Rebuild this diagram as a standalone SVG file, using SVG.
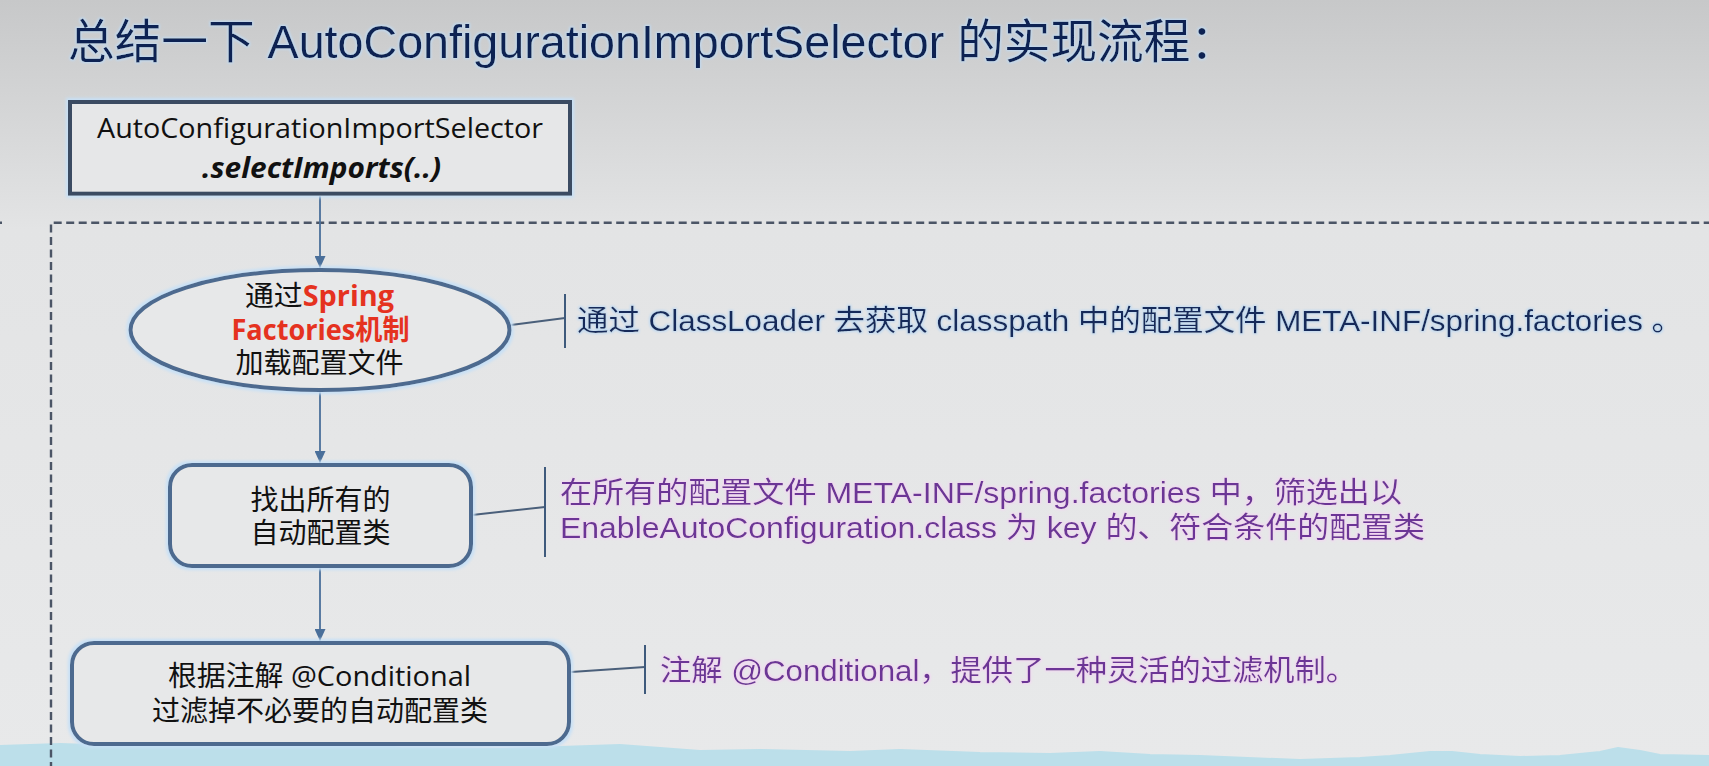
<svg xmlns="http://www.w3.org/2000/svg" width="1709" height="766" viewBox="0 0 1709 766">
  <defs>
    <linearGradient id="bg" x1="0" y1="0" x2="0" y2="1">
      <stop offset="0" stop-color="#c7c8c9"/>
      <stop offset="0.3" stop-color="#e3e4e5"/>
      <stop offset="1" stop-color="#e8e9ea"/>
    </linearGradient>
    <filter id="glowBlue" x="-5%" y="-30%" width="110%" height="160%">
      <feMorphology in="SourceAlpha" operator="dilate" radius="1.2" result="d"/>
      <feGaussianBlur in="d" stdDeviation="1.2" result="b"/>
      <feFlood flood-color="#bfd9f2"/>
      <feComposite in2="b" operator="in" result="g"/>
      <feMerge><feMergeNode in="g"/><feMergeNode in="SourceGraphic"/></feMerge>
    </filter>
    <filter id="glowPink" x="-5%" y="-30%" width="110%" height="160%">
      <feMorphology in="SourceAlpha" operator="dilate" radius="1.2" result="d"/>
      <feGaussianBlur in="d" stdDeviation="1.2" result="b"/>
      <feFlood flood-color="#f2d6f2"/>
      <feComposite in2="b" operator="in" result="g"/>
      <feMerge><feMergeNode in="g"/><feMergeNode in="SourceGraphic"/></feMerge>
    </filter>
    <filter id="halo" x="-10%" y="-20%" width="120%" height="140%">
      <feMorphology in="SourceAlpha" operator="dilate" radius="1.5" result="d"/>
      <feGaussianBlur in="d" stdDeviation="1.5" result="b"/>
      <feFlood flood-color="#c6e0f7"/>
      <feComposite in2="b" operator="in" result="g"/>
      <feMerge><feMergeNode in="g"/><feMergeNode in="SourceGraphic"/></feMerge>
    </filter>
    <marker id="arrow" viewBox="0 0 12 11" refX="12" refY="5.5" markerWidth="12" markerHeight="11" markerUnits="userSpaceOnUse" orient="auto">
      <path d="M0,0 L12,5.5 L0,11 Z" fill="#4a6f9a"/>
    </marker>
    <style>
      .title { font-family: "Liberation Sans", "Noto Sans CJK SC", sans-serif; font-size: 47px; fill: #0f2452; }
      .node-text { font-family: "Open Sans", "Noto Sans CJK SC", sans-serif; font-size: 28px; fill: #111111; text-anchor: middle; }
      .hot { fill: #e5321f; font-weight: bold; }
      .note { font-family: "Liberation Sans", "Noto Sans CJK SC", sans-serif; font-size: 29px; }
      .note-navy { fill: #13295a; }
      .note-purple { fill: #6c3596; }
      .box { fill: #e7e8e9; stroke: #4d6a8f; stroke-width: 4; }
      .flow { stroke: #4a6f9a; stroke-width: 1.8; fill: none; }
      .link { stroke: #4a5f7a; stroke-width: 2; fill: none; }
      .bracket { stroke: #3e5a7c; stroke-width: 2; fill: none; }
      .frame { stroke: #4b5566; stroke-width: 2.4; fill: none; stroke-dasharray: 8 4.5; }
    </style>
  </defs>

  <!-- slide background and wave ribbon -->
  <rect x="0" y="0" width="1709" height="766" fill="url(#bg)"/>
  <path d="M0,746 L60,744 L120,746 L180,742 L200,741 L230,745 L300,745 L345,740 L362,742 L400,748 L500,749 L560,747 L620,745 L660,748 L700,751 L760,750 L850,752 L900,750 L980,753 L1050,754 L1100,752 L1150,755 L1200,756 L1300,760 L1360,758 L1390,756 L1430,752 L1452,752 L1480,755 L1520,757 L1560,756 L1600,752 L1618,748 L1640,751 L1660,755 L1709,756 L1709,766 L0,766 Z" fill="#bcdfea" stroke="#bcdfea" stroke-width="2" stroke-linejoin="round"/>

  <text class="title" x="68" y="58" textLength="1169" lengthAdjust="spacingAndGlyphs" filter="url(#glowBlue)">总结一下 AutoConfigurationImportSelector 的实现流程：</text>

  <!-- dashed frame around the selector steps -->
  <g id="frame">
    <path class="frame" d="M51,770 V222.7 H1712"/>
    <path class="frame" d="M0,222.7 H2"/>
  </g>

  <!-- connectors -->
  <g id="connectors">
    <path class="flow" d="M320,196 V268" marker-end="url(#arrow)"/>
    <path class="flow" d="M320,392 V463" marker-end="url(#arrow)"/>
    <path class="flow" d="M320,568 V641" marker-end="url(#arrow)"/>
    <path class="link" d="M511,325 L565,318"/>
    <path class="link" d="M472,515 L545,507"/>
    <path class="link" d="M571,672 L645,667"/>
  </g>

  <g id="selector">
    <rect x="70" y="102" width="500" height="91.7" fill="#e6e7e8" stroke="#3b4b62" stroke-width="4" filter="url(#halo)"/>
    <text class="node-text" x="320" y="138" font-size="26" textLength="446" lengthAdjust="spacingAndGlyphs">AutoConfigurationImportSelector</text>
    <text class="node-text" x="321.5" y="178" font-size="26" font-weight="bold" font-style="italic" textLength="239" lengthAdjust="spacingAndGlyphs">.selectImports(..)</text>
  </g>

  <g id="load-factories">
    <ellipse class="box" cx="320" cy="330" rx="189.5" ry="60" filter="url(#halo)"/>
    <text class="node-text" x="319.5" y="306" textLength="149" lengthAdjust="spacingAndGlyphs">通过<tspan class="hot">Spring</tspan></text>
    <text class="node-text hot" x="320.5" y="340" textLength="178" lengthAdjust="spacingAndGlyphs">Factories机制</text>
    <text class="node-text" x="319.5" y="373">加载配置文件</text>
  </g>

  <g id="find-configs">
    <rect class="box" x="170" y="465" width="301" height="101" rx="22" filter="url(#halo)"/>
    <text class="node-text" x="320.5" y="510">找出所有的</text>
    <text class="node-text" x="320.5" y="543">自动配置类</text>
  </g>

  <g id="filter-configs">
    <rect class="box" x="72" y="643" width="497" height="101" rx="22" filter="url(#halo)"/>
    <text class="node-text" x="319.5" y="686" textLength="303" lengthAdjust="spacingAndGlyphs">根据注解 @Conditional</text>
    <text class="node-text" x="320" y="721">过滤掉不必要的自动配置类</text>
  </g>

  <g id="note-classloader">
    <path class="bracket" d="M565,294 V348"/>
    <text class="note note-navy" x="577" y="331" textLength="1106" lengthAdjust="spacingAndGlyphs" filter="url(#glowBlue)">通过 ClassLoader 去获取 classpath 中的配置文件 META-INF/spring.factories 。</text>
  </g>

  <g id="note-enable">
    <path class="bracket" d="M545,467 V557"/>
    <text class="note note-purple" x="560" y="503" textLength="842" lengthAdjust="spacingAndGlyphs" filter="url(#glowPink)">在所有的配置文件 META-INF/spring.factories 中，筛选出以</text>
    <text class="note note-purple" x="560" y="538" textLength="865" lengthAdjust="spacingAndGlyphs" filter="url(#glowPink)">EnableAutoConfiguration.class 为 key 的、符合条件的配置类</text>
  </g>

  <g id="note-conditional">
    <path class="bracket" d="M645,645 V694"/>
    <text class="note note-purple" x="660" y="681" textLength="697" lengthAdjust="spacingAndGlyphs" filter="url(#glowPink)">注解 @Conditional，提供了一种灵活的过滤机制。</text>
  </g>
</svg>
